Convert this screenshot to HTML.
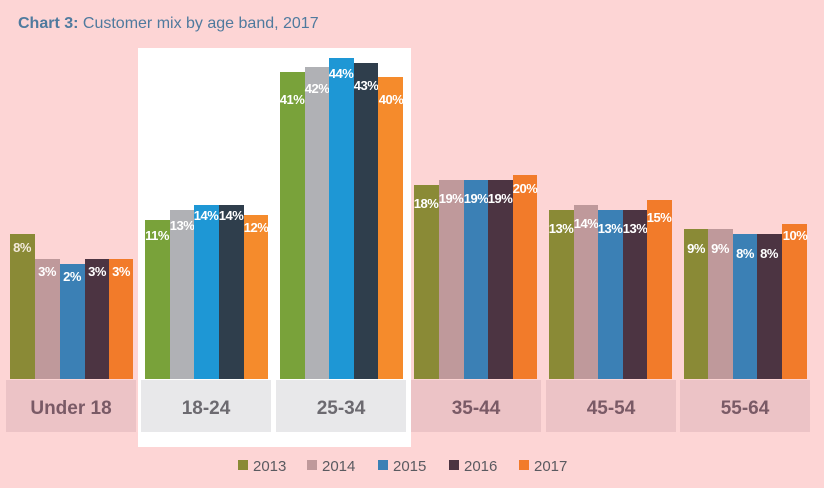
<!DOCTYPE html>
<html><head><style>
body{margin:0;background:#fdd5d5;}
svg{display:block;font-family:"Liberation Sans",sans-serif;}
</style></head><body>
<svg width="824" height="488" viewBox="0 0 824 488">
<rect width="824" height="488" fill="#fdd5d5"/>
<text x="18" y="28" font-size="16" fill="#4f7a9e" font-weight="bold">Chart 3: <tspan font-weight="normal">Customer mix by age band, 2017</tspan></text>
<rect x="138" y="48" width="273" height="399" fill="#ffffff"/>
<g font-size="19" font-weight="bold" text-anchor="middle">
<rect x="6" y="380" width="130" height="52" fill="#ecc3c6"/><text x="71" y="414" fill="#7a5a66">Under 18</text>
<rect x="141" y="380" width="130" height="52" fill="#e8e8ea"/><text x="206" y="414" fill="#6c6a70">18-24</text>
<rect x="276" y="380" width="130" height="52" fill="#e8e8ea"/><text x="341" y="414" fill="#6c6a70">25-34</text>
<rect x="411" y="380" width="130" height="52" fill="#ecc3c6"/><text x="476" y="414" fill="#7a5a66">35-44</text>
<rect x="546" y="380" width="130" height="52" fill="#ecc3c6"/><text x="611" y="414" fill="#7a5a66">45-54</text>
<rect x="680" y="380" width="130" height="52" fill="#ecc3c6"/><text x="745" y="414" fill="#7a5a66">55-64</text>
</g>
<g font-size="13" font-weight="bold" fill="#ffffff" text-anchor="middle" letter-spacing="-0.5">
<rect x="10" y="234" width="25" height="145" fill="#8a8a36"/><text x="22" y="252" fill="#f3eadc">8%</text>
<rect x="35" y="259" width="25" height="120" fill="#bf999b"/><text x="47" y="276">3%</text>
<rect x="60" y="264" width="25" height="115" fill="#3b80b5"/><text x="72" y="281">2%</text>
<rect x="85" y="259" width="24" height="120" fill="#4c3442"/><text x="97" y="276">3%</text>
<rect x="109" y="259" width="24" height="120" fill="#f27b2a"/><text x="121" y="276">3%</text>
<rect x="145" y="220" width="25" height="159" fill="#79a23a"/><text x="157" y="240">11%</text>
<rect x="170" y="210" width="24" height="169" fill="#b0b1b5"/><text x="182" y="230">13%</text>
<rect x="194" y="205" width="25" height="174" fill="#1e97d5"/><text x="206" y="220">14%</text>
<rect x="219" y="205" width="25" height="174" fill="#2f3e4c"/><text x="231" y="220">14%</text>
<rect x="244" y="215" width="24" height="164" fill="#f58b2c"/><text x="256" y="232">12%</text>
<rect x="280" y="72" width="25" height="307" fill="#79a23a"/><text x="292" y="104">41%</text>
<rect x="305" y="67" width="24" height="312" fill="#b0b1b5"/><text x="317" y="93">42%</text>
<rect x="329" y="58" width="25" height="321" fill="#1e97d5"/><text x="341" y="78">44%</text>
<rect x="354" y="63" width="24" height="316" fill="#2f3e4c"/><text x="366" y="90">43%</text>
<rect x="378" y="77" width="25" height="302" fill="#f58b2c"/><text x="391" y="104">40%</text>
<rect x="414" y="185" width="25" height="194" fill="#8a8a36"/><text x="426" y="208">18%</text>
<rect x="439" y="180" width="25" height="199" fill="#bf999b"/><text x="451" y="203">19%</text>
<rect x="464" y="180" width="24" height="199" fill="#3b80b5"/><text x="476" y="203">19%</text>
<rect x="488" y="180" width="25" height="199" fill="#4c3442"/><text x="500" y="203">19%</text>
<rect x="513" y="175" width="24" height="204" fill="#f27b2a"/><text x="525" y="193">20%</text>
<rect x="549" y="210" width="25" height="169" fill="#8a8a36"/><text x="561" y="233">13%</text>
<rect x="574" y="205" width="24" height="174" fill="#bf999b"/><text x="586" y="228">14%</text>
<rect x="598" y="210" width="25" height="169" fill="#3b80b5"/><text x="610" y="233">13%</text>
<rect x="623" y="210" width="24" height="169" fill="#4c3442"/><text x="635" y="233">13%</text>
<rect x="647" y="200" width="25" height="179" fill="#f27b2a"/><text x="659" y="222">15%</text>
<rect x="684" y="229" width="24" height="150" fill="#8a8a36"/><text x="696" y="253">9%</text>
<rect x="708" y="229" width="25" height="150" fill="#bf999b"/><text x="720" y="253">9%</text>
<rect x="733" y="234" width="24" height="145" fill="#3b80b5"/><text x="745" y="258">8%</text>
<rect x="757" y="234" width="25" height="145" fill="#4c3442"/><text x="769" y="258">8%</text>
<rect x="782" y="224" width="25" height="155" fill="#f27b2a"/><text x="795" y="240">10%</text>
</g>
<g font-size="15" fill="#5a5a60">
<rect x="238" y="460" width="10" height="10" fill="#8a8a36"/><text x="253" y="471">2013</text>
<rect x="307" y="460" width="10" height="10" fill="#bf999b"/><text x="322" y="471">2014</text>
<rect x="378" y="460" width="10" height="10" fill="#3b80b5"/><text x="393" y="471">2015</text>
<rect x="449" y="460" width="10" height="10" fill="#4c3442"/><text x="464" y="471">2016</text>
<rect x="519" y="460" width="10" height="10" fill="#f27b2a"/><text x="534" y="471">2017</text>
</g>
</svg>
</body></html>
